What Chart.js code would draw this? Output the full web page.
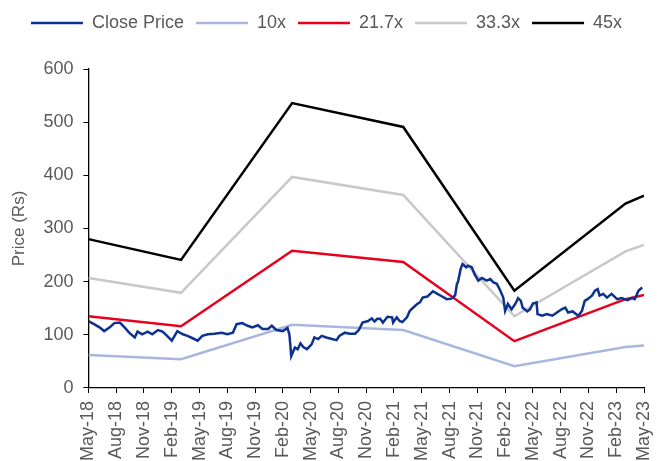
<!DOCTYPE html>
<html>
<head>
<meta charset="utf-8">
<script src="https://cdn.jsdelivr.net/npm/chart.js@4"></script>
<style>
  html, body { margin: 0; padding: 0; background: #fff; }
  canvas { display: block; }
</style>
</head>
<body>
<canvas id="peBand" width="663" height="461"></canvas>
<script>
// x values are months counted from May-18
const tickLabels = ['May-18','Aug-18','Nov-18','Feb-19','May-19','Aug-19','Nov-19','Feb-20','May-20',
  'Aug-20','Nov-20','Feb-21','May-21','Aug-21','Nov-21','Feb-22','May-22','Aug-22','Nov-22','Feb-23','May-23'];

const closeMonths = [0,0.6,1.2,1.7,2.3,2.8,3.4,3.9,4.4,5.0,5.3,5.8,6.4,6.9,7.5,8.0,8.5,9.0,9.4,9.6,
  10.2,10.7,11.2,11.8,12.3,12.9,13.6,14.4,15.0,15.6,16.0,16.6,17.2,17.7,18.3,18.8,19.4,19.8,20.3,21.0,
  21.5,21.7,21.8,21.9,22.3,22.6,22.9,23.2,23.6,24.1,24.4,24.8,25.2,25.7,26.3,26.8,27.1,27.7,28.2,28.8,
  29.2,29.6,30.2,30.6,30.9,31.2,31.5,31.8,32.3,32.8,32.9,33.3,33.6,33.9,34.4,34.7,35.0,35.5,35.8,36.1,
  36.6,37.2,37.6,38.2,38.7,39.2,39.6,39.8,39.9,40.2,40.4,40.8,41.0,41.4,41.7,42.1,42.5,43.0,43.4,43.7,
  44.1,44.4,44.8,45.0,45.3,45.7,46.1,46.4,46.7,46.9,47.4,47.7,48.0,48.4,48.5,49.0,49.5,50.1,50.6,51.1,
  51.5,51.8,52.3,52.9,53.3,53.6,53.9,54.4,54.7,55.0,55.2,55.6,56.0,56.5,57.1,57.6,58.2,58.7,59.0,59.4,59.8];
const closePrice = [126,120,114,107,114,122,123,114,104,95,106,101,106,101,109,106,98,89,101,107,
  101,98,94,89,98,101,102,104,101,104,120,122,117,114,118,111,111,117,109,107,
  113,101,82,60,76,73,84,77,73,82,95,92,98,95,92,90,98,104,102,102,
  109,123,126,131,125,130,130,123,134,133,123,133,126,124,133,145,150,158,161,170,
  172,182,178,172,167,168,174,196,199,224,233,227,230,227,214,202,207,202,205,199,
  196,186,170,145,158,148,158,169,164,151,144,148,159,161,139,136,139,136,142,148,
  151,142,144,136,145,164,167,174,183,186,174,177,170,177,167,169,165,169,167,183,189];

const bandMonths = [0, 10, 22, 34, 46, 58, 60];
const pe10 = [62, 54, 119, 109, 41, 77, 80];
const pe217 = [135, 116, 258, 237, 88, 167, 175];
const pe333 = [207, 179, 397, 363, 135, 257, 269];
const pe45 = [280, 241, 536, 491, 183, 347, 362];

function pts(xs, ys) {
  return xs.map((x, i) => ({ x: x, y: ys[i] }));
}

function band(label, ys, color) {
  return {
    label: label,
    data: pts(bandMonths, ys),
    borderColor: color,
    backgroundColor: color,
    borderWidth: 2.5,
    pointRadius: 0,
    tension: 0
  };
}

// push the plot area down below the legend
const legendGap = {
  id: 'legendGap',
  beforeInit(chart) {
    const fit = chart.legend.fit;
    chart.legend.fit = function () {
      fit.bind(chart.legend)();
      this.height += 27;
    };
  }
};

Chart.defaults.font.family = "'Liberation Sans', Arial, sans-serif";
Chart.defaults.font.size = 18;
Chart.defaults.color = '#595959';

new Chart(document.getElementById('peBand'), {
  type: 'line',
  data: {
    datasets: [
      {
        label: 'Close Price',
        data: pts(closeMonths, closePrice),
        borderColor: '#0d318f',
        backgroundColor: '#0d318f',
        borderWidth: 2.5,
        pointRadius: 0,
        tension: 0
      },
      band('10x', pe10, '#a9b7de'),
      band('21.7x', pe217, '#e8001c'),
      band('33.3x', pe333, '#c8c8c8'),
      band('45x', pe45, '#000000')
    ]
  },
  options: {
    responsive: false,
    animation: false,
    layout: { padding: { left: 9, right: 19, top: 2, bottom: -8 } },
    plugins: {
      tooltip: { enabled: false },
      legend: {
        position: 'top',
        labels: {
          usePointStyle: true,
          pointStyle: 'line',
          pointStyleWidth: 52,
          boxHeight: 18,
          padding: 12,
          font: { size: 18 }
        }
      }
    },
    scales: {
      x: {
        type: 'linear',
        min: 0,
        max: 60,
        afterFit: s => { s.paddingRight = 0; },
        border: { color: '#000', width: 1.3 },
        grid: { drawOnChartArea: false, drawTicks: true, tickLength: 5, color: '#000' },
        ticks: {
          stepSize: 3,
          autoSkip: false,
          minRotation: 90,
          maxRotation: 90,
          padding: 8,
          callback: v => tickLabels[v / 3]
        }
      },
      y: {
        min: 0,
        max: 600,
        border: { color: '#000', width: 1.3 },
        grid: { drawOnChartArea: false, drawTicks: true, tickLength: 5, color: '#000' },
        ticks: { stepSize: 100, padding: 10 },
        title: { display: true, text: 'Price (Rs)', font: { size: 17 }, padding: { top: 0, bottom: 4 } }
      }
    }
  },
  plugins: [legendGap]
});
</script>
</body>
</html>
